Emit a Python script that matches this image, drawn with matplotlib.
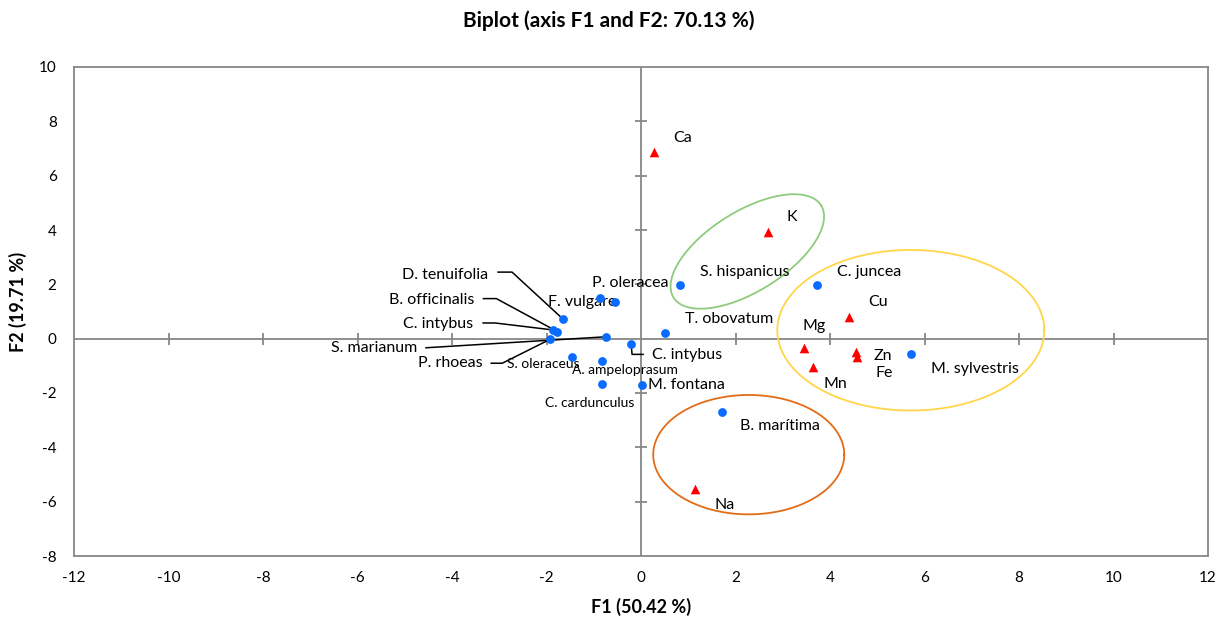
# -*- coding: utf-8 -*-

import numpy as np
import matplotlib
matplotlib.use('Agg')
import matplotlib.pyplot as plt

plt.rcParams['font.family'] = ['Lato', 'DejaVu Sans']
plt.rcParams['axes.unicode_minus'] = False

# observations (blue circles)
obs_names = ['S. hispanicus', 'F. vulgare', 'P. oleracea', 'D. tenuifolia',
             'B. officinalis', 'C. intybus', 'P. rhoeas', 'S. marianum',
             'C. intybus ', 'S. oleraceus', 'A. ampeloprasum', 'C. cardunculus',
             'M. fontana', 'T. obovatum', 'C. juncea', 'M. sylvestris',
             'B. marítima']
obs_f1 = [0.83, -0.87, -0.56, -1.65, -1.77, -1.86, -1.92, -0.74,
          -0.21, -1.45, -0.82, -0.82, 0.03, 0.51, 3.72, 5.71, 1.72]
obs_f2 = [1.98, 1.49, 1.34, 0.72, 0.26, 0.32, -0.02, 0.07,
          -0.21, -0.66, -0.82, -1.67, -1.69, 0.20, 1.98, -0.57, -2.71]

# variables (red triangles)
var_names = ['Ca', 'K', 'Cu', 'Mg', 'Zn', 'Fe', 'Mn', 'Na']
var_f1 = [0.28, 2.68, 4.41, 3.46, 4.56, 4.58, 3.65, 1.15]
var_f2 = [6.88, 3.92, 0.81, -0.35, -0.50, -0.66, -1.05, -5.52]

x_ticks = list(range(-12, 13, 2))
y_ticks = list(range(-8, 11, 2))

# group ellipses: centre (F1, F2)
ell_cx = [2.25, 5.71, 2.28]
ell_cy = [3.21, 0.31, -4.27]

# ---- layout / style -------------------------------------------------------
W, H, DPI = 1222, 622, 100
AX_L, AX_R, AX_T, AX_B = 74, 1208, 67, 556
C_BLUE = '#0A6CFF'
C_RED = '#FF0000'
C_GREY = '#878787'
FS = 11.5     # point labels
FS_S = 10     # small point labels
ell_style = [  # semi axes in px, angle (screen deg), colour
    (87, 40, 32, '#8FCB7C'),
    (133.5, 80.3, 0, '#FFD54A'),
    (95.5, 59.7, 0, '#E36C17'),
]

# label offsets in px (right, up) from the point, text left aligned
obs_lbl = {
    'S. hispanicus': (20, 13, FS), 'F. vulgare': (-52, -4, FS),
    'P. oleracea': (-23, 19, FS), 'S. oleraceus': (-65, -7, FS_S),
    'A. ampeloprasum': (-30, -9, FS_S), 'C. cardunculus': (-57, -19, FS_S),
    'M. fontana': (6, 0, FS), 'T. obovatum': (20, 14, FS),
    'C. juncea': (20, 13, FS), 'M. sylvestris': (20, -15, FS),
    'B. marítima': (18, -14, FS),
}
var_lbl = {
    'Ca': (19, 14), 'K': (19, 15), 'Cu': (19, 15), 'Mg': (-2, 22),
    'Zn': (17, -4), 'Fe': (18, -16), 'Mn': (10, -17), 'Na': (19, -16),
}
# leader lines: (right, up) px vertices after the point, text anchor
leaders = {
    'D. tenuifolia': ([(-51, 47), (-65, 47)], (-75, 44), 'right'),
    'B. officinalis': ([(-61, 33), (-74, 33)], (-83, 32), 'right'),
    'C. intybus': ([(-58, 7), (-70, 7)], (-80, 6), 'right'),
    'S. marianum': ([(-180, -11)], (-189, -11), 'right'),
    'P. rhoeas': ([(-48, -24), (-59, -24)], (-68, -24), 'right'),
    'C. intybus ': ([(1, -10), (12, -10)], (21, -11), 'left'),
}

fig = plt.figure(figsize=(W / DPI, H / DPI), dpi=DPI)
ax = fig.add_axes([AX_L / W, 1 - AX_B / H, (AX_R - AX_L) / W, (AX_B - AX_T) / H])
ax.set_xlim(x_ticks[0], x_ticks[-1])
ax.set_ylim(y_ticks[0], y_ticks[-1])

sx = (AX_R - AX_L) / (x_ticks[-1] - x_ticks[0])   # px per unit
sy = (AX_B - AX_T) / (y_ticks[-1] - y_ticks[0])


def px(dx, dy):
    return dx / sx, dy / sy


# frame
for s in ax.spines.values():
    s.set_color(C_GREY)
    s.set_linewidth(1.3)
ax.set_xticks(x_ticks)
ax.set_yticks(y_ticks)
ax.tick_params(length=0, labelsize=11)
ax.tick_params(axis='x', pad=10.5)
ax.tick_params(axis='y', pad=12.5)

# centre axes with crossing ticks
ax.axhline(0, color=C_GREY, lw=1.3, zorder=1)
ax.axvline(0, color=C_GREY, lw=1.3, zorder=1)
xt = [t for t in x_ticks if t not in (0, x_ticks[0], x_ticks[-1])]
yt = [t for t in y_ticks if t not in (0, y_ticks[0], y_ticks[-1])]
ax.plot(xt, np.zeros(len(xt)), ls='none', marker='|', ms=8, mew=1.3,
        color=C_GREY, zorder=1)
ax.plot(np.zeros(len(yt)), yt, ls='none', marker='_', ms=8, mew=1.3,
        color=C_GREY, zorder=1)

# ellipses
t = np.linspace(0, 2 * np.pi, 300)
for cx, cy, (a, b, ang, col) in zip(ell_cx, ell_cy, ell_style):
    th = np.radians(ang)
    ex = a * np.cos(t) * np.cos(th) - b * np.sin(t) * np.sin(th)
    ey = a * np.cos(t) * np.sin(th) + b * np.sin(t) * np.cos(th)
    ax.plot(cx + ex / sx, cy + ey / sy, color=col, lw=1.3, zorder=2)

# leader lines and their labels
for name, (verts, tpos, ha) in leaders.items():
    i = obs_names.index(name)
    x0, y0 = obs_f1[i], obs_f2[i]
    lx = [x0] + [x0 + px(*v)[0] for v in verts]
    ly = [y0] + [y0 + px(*v)[1] for v in verts]
    ax.plot(lx, ly, color='black', lw=1.1, zorder=3)
    ax.annotate(name.strip(), (x0, y0), xytext=tpos, textcoords='offset pixels',
                ha=ha, va='center', fontsize=FS)

ax.scatter(obs_f1, obs_f2, s=40, color=C_BLUE, zorder=4, linewidths=0)
ax.scatter(var_f1, var_f2, s=48, marker='^', color=C_RED, zorder=4,
           linewidths=0)

for name, x, y in zip(obs_names, obs_f1, obs_f2):
    if name in obs_lbl:
        dx, dy, fs = obs_lbl[name]
        ax.annotate(name, (x, y), xytext=(dx, dy), textcoords='offset pixels',
                    ha='left', va='center', fontsize=fs)
for name, x, y in zip(var_names, var_f1, var_f2):
    dx, dy = var_lbl[name]
    ax.annotate(name, (x, y), xytext=(dx, dy), textcoords='offset pixels',
                ha='left', va='center', fontsize=FS)

fig.text(609 / W, 1 - 21 / H, 'Biplot (axis F1 and F2: 70.13 %)', ha='center',
         va='center', fontsize=15, fontweight='bold')
fig.text((AX_L + AX_R) / 2 / W, 1 - 607 / H, 'F1 (50.42 %)', ha='center',
         va='center', fontsize=13, fontweight='bold')
fig.text(18 / W, 1 - 302 / H, 'F2 (19.71 %)', ha='center', va='center',
         rotation=90, fontsize=13, fontweight='bold')

fig.savefig('out.png', dpi=DPI)
